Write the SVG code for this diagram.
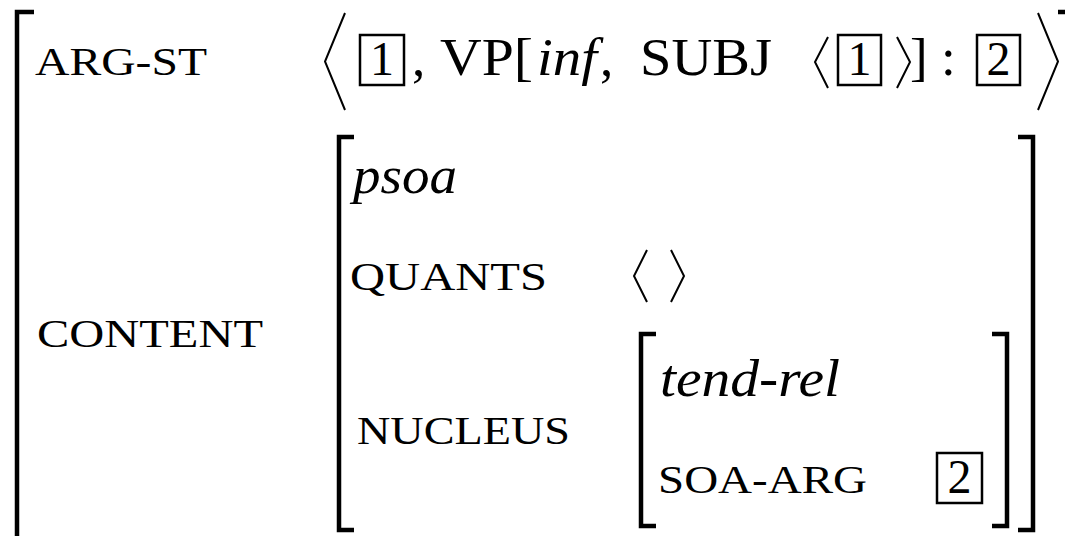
<svg xmlns="http://www.w3.org/2000/svg" width="1065" height="536" viewBox="0 0 1065 536">
<style>
text{font-family:"Liberation Serif","Times New Roman",serif;fill:#000}
.m{font-size:53px}
.sc{font-size:41px}
.it{font-size:53px;font-style:italic}
.d{font-size:48px;text-anchor:middle}
.br{fill:none;stroke:#000;stroke-width:4.5;stroke-linecap:butt;stroke-linejoin:miter}
.ang{fill:none;stroke:#000;stroke-width:2;stroke-linejoin:miter}
.box{fill:none;stroke:#000;stroke-width:2.5}
</style>
<rect width="1065" height="536" fill="#fff"/>
<g id="outer-avm">
<path class="br" d="M34,12 H17 V540"/>
<path class="br" d="M1058,12 H1068 V540"/>
</g>
<g id="arg-st">
<text class="sc" x="35" y="75" textLength="172" lengthAdjust="spacingAndGlyphs">ARG-ST</text>
<polyline class="ang" points="345,13 325,61.5 345,110"/>
<rect class="box" x="360" y="35" width="44" height="50"/>
<text class="d" x="382" y="75">1</text>
<text class="m" x="412" y="75">,</text>
<text class="m" x="440" y="75" textLength="93" lengthAdjust="spacingAndGlyphs">VP[</text>
<text class="it" x="537" y="75" textLength="60" lengthAdjust="spacingAndGlyphs">inf</text>
<text class="m" x="600" y="75">,</text>
<text class="m" x="640" y="75" textLength="132" lengthAdjust="spacingAndGlyphs">SUBJ</text>
<polyline class="ang" points="828,37 815,62 828,88"/>
<rect class="box" x="838" y="35" width="43" height="50"/>
<text class="d" x="859.5" y="75">1</text>
<polyline class="ang" points="897,37 910,62 897,88"/>
<text class="m" x="910" y="75">]</text>
<text class="m" x="941" y="75">:</text>
<rect class="box" x="977" y="35" width="43" height="50"/>
<text class="d" x="998.5" y="75">2</text>
<polyline class="ang" points="1038,13 1058,61.5 1038,110"/>
</g>
<g id="content">
<text class="sc" x="37" y="347" textLength="226" lengthAdjust="spacingAndGlyphs">CONTENT</text>
<path class="br" d="M354,137 H339 V530 H354"/>
<path class="br" d="M1018,137 H1033 V530 H1018"/>
<text class="it" x="353" y="193" textLength="104" lengthAdjust="spacingAndGlyphs">psoa</text>
</g>
<g id="quants">
<text class="sc" x="350" y="290" textLength="197" lengthAdjust="spacingAndGlyphs">QUANTS</text>
<polyline class="ang" points="647,250 634,276 647,302"/>
<polyline class="ang" points="671,250 684,276 671,302"/>
</g>
<g id="nucleus">
<text class="sc" x="357" y="444" textLength="213" lengthAdjust="spacingAndGlyphs">NUCLEUS</text>
<path class="br" d="M656,334 H641 V526 H656"/>
<path class="br" d="M992,334 H1007 V526 H992"/>
<text class="it" x="660" y="396" textLength="180" lengthAdjust="spacingAndGlyphs">tend-rel</text>
<text class="sc" x="658" y="493" textLength="209" lengthAdjust="spacingAndGlyphs">SOA-ARG</text>
<rect class="box" x="937" y="453" width="45" height="50"/>
<text class="d" x="959.5" y="493">2</text>
</g>
<g id="connectors"></g>
</svg>
